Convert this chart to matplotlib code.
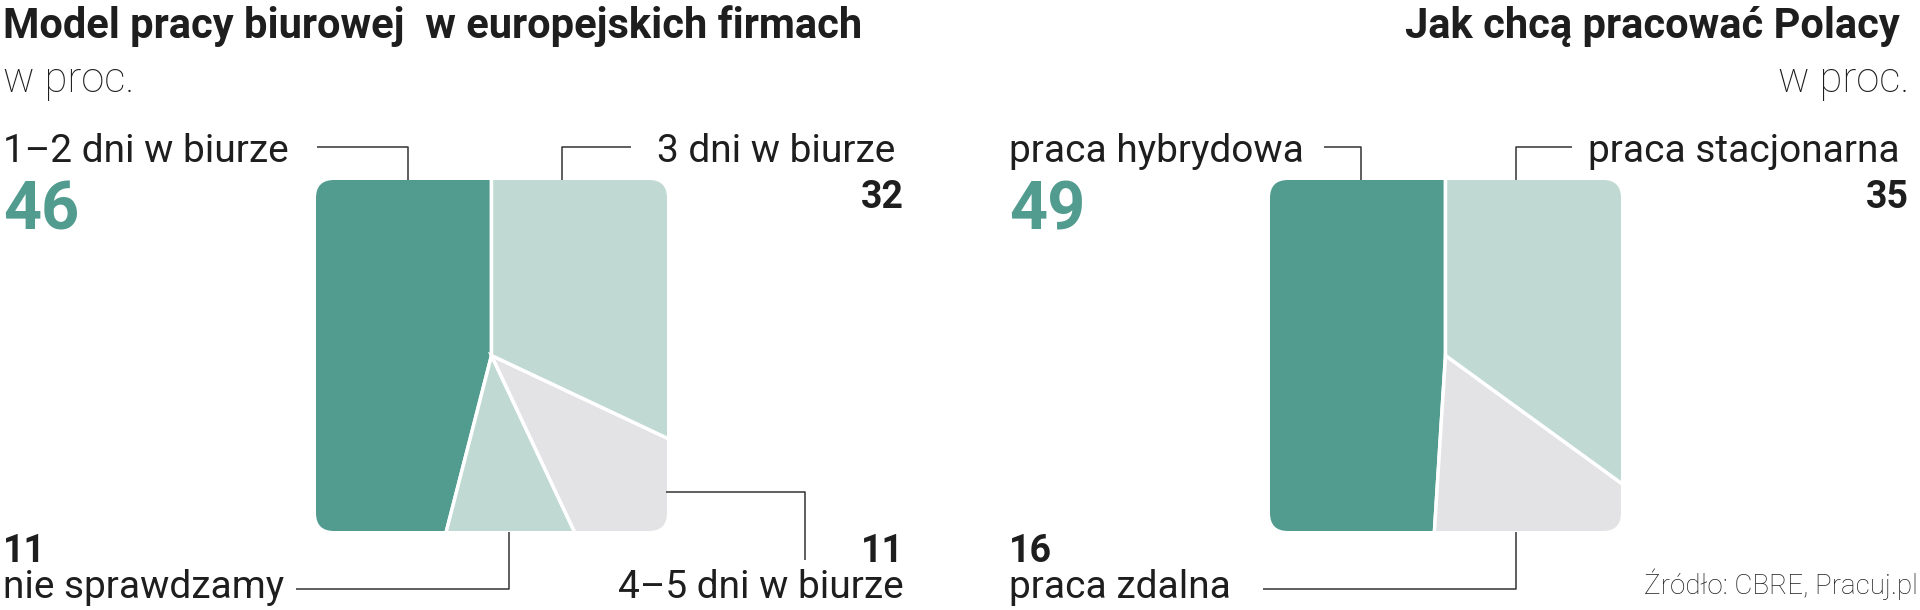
import matplotlib.pyplot as plt
from matplotlib.patches import FancyBboxPatch

plt.rcParams['font.family'] = ['Roboto', 'DejaVu Sans']

# dane
left_labels = ["1–2 dni w biurze", "nie sprawdzamy", "4–5 dni w biurze", "3 dni w biurze"]
left_values = [46, 11, 11, 32]
right_labels = ["praca hybrydowa", "praca zdalna", "praca stacjonarna"]
right_values = [49, 16, 35]

GREEN = "#519b8f"
LIGHT = "#c0d9d2"
GREY = "#e3e3e5"
DARK = "#1e1e1e"
left_colors = [GREEN, LIGHT, GREY, LIGHT]
right_colors = [GREEN, GREY, LIGHT]

W, H = 1920, 610
fig = plt.figure(figsize=(W / 100, H / 100), dpi=100)
ax = fig.add_axes([0, 0, 1, 1])


def Y(y):
    # piksele od góry -> współrzędne osi
    return H - y


def txt(x, y, s, size, ha='left', weight='normal', color=DARK):
    ax.text(x, Y(y), s, fontsize=size, ha=ha, va='baseline',
            fontweight=weight, color=color)


def square_pie(values, colors, x0, y0, size):
    box = FancyBboxPatch((x0, Y(y0 + size)), size, size,
                         boxstyle="round,pad=0,rounding_size=18",
                         facecolor='none', edgecolor='none')
    ax.add_patch(box)
    cx, cy = x0 + size / 2, Y(y0 + size / 2)
    wedges, _ = ax.pie(values, colors=colors, startangle=90, counterclock=True,
                       center=(cx, cy), radius=size, frame=True,
                       wedgeprops=dict(edgecolor='white', linewidth=2.5))
    for w in wedges:
        w.set_clip_on(True)
        w.set_clip_path(box)


def leader(xs, ys):
    ax.plot(xs, [Y(v) for v in ys], color='#333333', lw=1.1, solid_capstyle='butt')


square_pie(left_values, left_colors, 316, 180, 351)
square_pie(right_values, right_colors, 1270, 180, 351)
ax.set_xlim(0, W)
ax.set_ylim(0, H)
ax.set_aspect('auto')
ax.axis('off')

# lewy panel
txt(3, 38, "Model pracy biurowej  w europejskich firmach", 30, weight='bold')
txt(3, 92, "w proc.", 30, weight='light')
txt(3, 162, left_labels[0], 28)
txt(3, 229, str(left_values[0]), 48, weight='bold', color=GREEN)
txt(895, 162, left_labels[3], 28, ha='right')
txt(904, 208, str(left_values[3]), 27, ha='right', weight='bold')
txt(3, 562, str(left_values[1]), 27, weight='bold')
txt(3, 598, left_labels[1], 28)
txt(904, 562, str(left_values[2]), 27, ha='right', weight='bold')
txt(904, 598, left_labels[2], 28, ha='right')

leader([317, 408, 408], [147, 147, 180])
leader([631, 562, 562], [147, 147, 180])
leader([296, 509, 509], [589, 589, 532])
leader([666, 805, 805], [492, 492, 560])

# prawy panel
txt(1900, 38, "Jak chcą pracować Polacy", 30, ha='right', weight='bold')
txt(1909, 92, "w proc.", 30, ha='right', weight='light')
txt(1009, 162, right_labels[0], 28)
txt(1009, 229, str(right_values[0]), 48, weight='bold', color=GREEN)
txt(1900, 162, right_labels[2], 28, ha='right')
txt(1909, 208, str(right_values[2]), 27, ha='right', weight='bold')
txt(1009, 562, str(right_values[1]), 27, weight='bold')
txt(1009, 598, right_labels[1], 28)
txt(1918, 594, "Źródło: CBRE, Pracuj.pl", 20, ha='right', weight='light')

leader([1324, 1361, 1361], [147, 147, 180])
leader([1572, 1516, 1516], [147, 147, 180])
leader([1263, 1516, 1516], [589, 589, 532])

fig.savefig("out.png", dpi=100)
